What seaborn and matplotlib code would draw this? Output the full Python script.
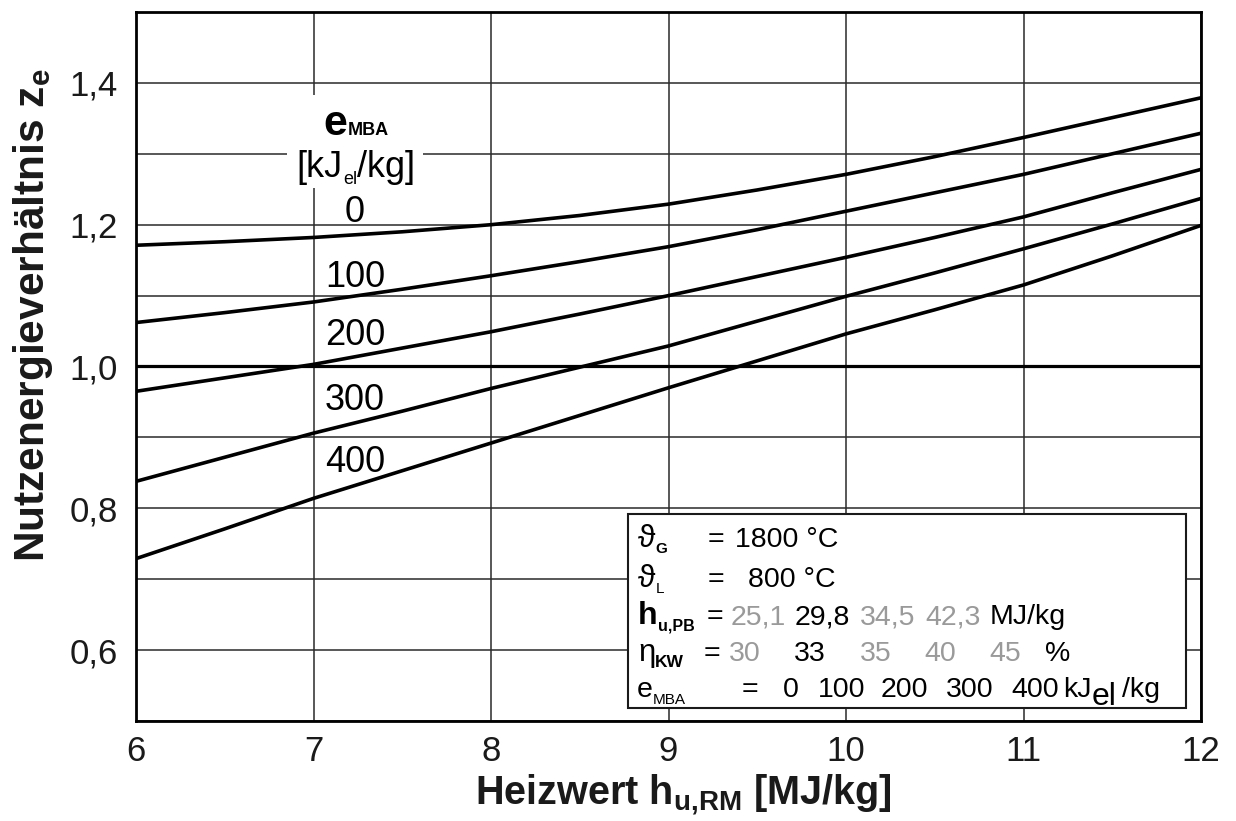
import numpy as np
import pandas as pd
import matplotlib
matplotlib.use("Agg")
import matplotlib.pyplot as plt
import seaborn as sns
from matplotlib.transforms import offset_copy
from matplotlib.patches import Rectangle

# ---------------- data ----------------
heizwert = [6.0, 6.5, 7.0, 7.5, 8.0, 8.5, 9.0, 9.5, 10.0, 10.5, 11.0, 11.5, 12.0]
z_e_0   = [1.171, 1.176, 1.182, 1.190, 1.200, 1.213, 1.229, 1.249, 1.271, 1.296, 1.323, 1.351, 1.379]
z_e_100 = [1.062, 1.076, 1.091, 1.109, 1.128, 1.148, 1.169, 1.193, 1.219, 1.245, 1.271, 1.300, 1.329]
z_e_200 = [0.965, 0.984, 1.003, 1.026, 1.049, 1.074, 1.100, 1.127, 1.154, 1.182, 1.211, 1.245, 1.278]
z_e_300 = [0.838, 0.872, 0.906, 0.937, 0.969, 0.999, 1.029, 1.064, 1.099, 1.132, 1.166, 1.201, 1.237]
z_e_400 = [0.729, 0.771, 0.814, 0.853, 0.892, 0.931, 0.970, 1.008, 1.046, 1.080, 1.115, 1.156, 1.199]
e_mba = [0, 100, 200, 300, 400]
curves = [z_e_0, z_e_100, z_e_200, z_e_300, z_e_400]

x_ticks = [6, 7, 8, 9, 10, 11, 12]
x_ticklabels = ["6", "7", "8", "9", "10", "11", "12"]
y_grid = [0.5, 0.6, 0.7, 0.8, 0.9, 1.0, 1.1, 1.2, 1.3, 1.4, 1.5]
y_ticklabels = ["", "0,6", "", "0,8", "", "1,0", "", "1,2", "", "1,4", ""]
ref_line = 1.0

hu_pb = ["25,1", "29,8", "34,5", "42,3"]
eta_kw = ["30", "33", "35", "40", "45"]
active_idx = 1

rows = []
for e, zs in zip(e_mba, curves):
    for h, z in zip(heizwert, zs):
        rows.append({"h": h, "z": z, "e": str(e)})
df = pd.DataFrame(rows)

# ---------------- style ----------------
sns.set_style("white")
plt.rcParams["font.family"] = ["Liberation Sans", "DejaVu Sans"]
plt.rcParams["mathtext.fontset"] = "custom"
plt.rcParams["mathtext.rm"] = "Liberation Sans"
plt.rcParams["mathtext.bf"] = "Liberation Sans:bold"
plt.rcParams["mathtext.it"] = "Liberation Sans:italic"

fig = plt.figure(figsize=(12.36, 8.21), dpi=100)
L, R, T, B = 136, 1201, 12, 721
W, H = 1236, 821
ax = fig.add_axes([L / W, 1 - B / H, (R - L) / W, (B - T) / H])

sns.lineplot(data=df, x="h", y="z", hue="e", palette=["black"] * 5,
             legend=False, linewidth=2.6, ax=ax, zorder=3)
ax.axhline(ref_line, color="black", linewidth=2.3, zorder=2.5)

ax.set_xlim(6, 12)
ax.set_ylim(0.5, 1.5)
ax.set_xticks(x_ticks)
ax.set_xticklabels(x_ticklabels)
ax.set_yticks(y_grid)
ax.set_yticklabels(y_ticklabels)
ax.tick_params(axis="both", length=0, labelsize=25, colors="#1a1a1a")
ax.tick_params(axis="x", pad=10)
ax.tick_params(axis="y", pad=13)
ax.grid(True, color="#2a2a2a", linewidth=1.1, zorder=1)
ax.set_axisbelow(True)
for s in ax.spines.values():
    s.set_color("black")
    s.set_linewidth(2.0)
ax.set_xlabel("")
ax.set_ylabel("")

# ---------------- helpers ----------------
renderer = fig.canvas.get_renderer()


def fpos(xp, yp):
    return (xp - L) / (R - L), (B - yp) / (B - T)


def rich(xp, yp, parts, ha="left", zorder=6):
    """parts: (text, size, weight, color, dy_pt, gap_pt)"""
    widths = []
    for s, size, weight, color, dy, gap in parts:
        t = ax.text(0, 0, s, fontsize=size, fontweight=weight)
        widths.append(t.get_window_extent(renderer).width * 72 / fig.dpi)
        t.remove()
    total = sum(widths) + sum(p[5] for p in parts[:-1])
    cur = 0.0 if ha == "left" else -total / 2
    fx, fy = fpos(xp, yp)
    for (s, size, weight, color, dy, gap), w in zip(parts, widths):
        tr = offset_copy(ax.transAxes, fig=fig, x=cur, y=dy, units="points")
        ax.text(fx, fy, s, fontsize=size, fontweight=weight, color=color,
                transform=tr, ha="left", va="baseline", zorder=zorder)
        cur += w + gap


FS = 20.5


def txt(xp, yp, s, size=FS, color="black", weight="normal", ha="left"):
    fx, fy = fpos(xp, yp)
    ax.text(fx, fy, s, fontsize=size, color=color, fontweight=weight,
            transform=ax.transAxes, ha=ha, va="baseline", zorder=6)


# ---------------- curve labels ----------------
ax.add_patch(Rectangle(fpos(287, 188), 136 / (R - L), 93 / (B - T),
                       transform=ax.transAxes, facecolor="white",
                       edgecolor="none", zorder=2))
rich(356, 135, [("e", 31, "bold", "black", 0, 0.5),
                ("MBA", 13, "bold", "black", 0, 0)], ha="center")
rich(356, 177, [("[kJ", 26, "normal", "black", 0, 0),
                ("el", 13, "normal", "black", -5, 0),
                ("/kg]", 26, "normal", "black", 0, 0)], ha="center")
label_base = [222, 287, 345, 410, 472]
for e, yb in zip(e_mba, label_base):
    txt(355, yb, str(e), size=26, ha="center")

# ---------------- parameter box ----------------
ax.add_patch(Rectangle(fpos(628, 708), 558 / (R - L), 194 / (B - T),
                       transform=ax.transAxes, facecolor="white",
                       edgecolor="#1a1a1a", linewidth=1.5, zorder=5))
GRAY = "#9a9a9a"
# row 1
rich(638, 547, [("ϑ", 23, "normal", "black", 0, 0), ("G", 11, "bold", "black", -4, 0)])
txt(708, 547, "=")
txt(735, 547, "1800 °C")
# row 2
rich(638, 587, [("ϑ", 23, "normal", "black", 0, 0), ("L", 11, "normal", "black", -4, 0)])
txt(708, 587, "=")
txt(748, 587, "800 °C")
# row 3
rich(638, 624, [("h", 23, "bold", "black", 0, 0.5), ("u,PB", 11.5, "bold", "black", -5, 0)])
txt(707, 624, "=")
for i, (v, xp) in enumerate(zip(hu_pb, [731, 795, 860, 925])):
    txt(xp, 624, v, color="black" if i == active_idx else GRAY)
txt(990, 624, "MJ/kg")
# row 4
rich(638, 661, [("η", 22.5, "normal", "black", 0, 0), ("KW", 12.5, "bold", "black", -4, 0)])
txt(704, 661, "=")
for i, (v, xp) in enumerate(zip(eta_kw, [729, 794, 860, 924, 989])):
    txt(xp, 661, v, color="black" if i == active_idx else GRAY)
txt(1045, 661, "%")
# row 5
rich(637, 697, [("e", FS, "normal", "black", 0, 0), ("MBA", 11, "normal", "black", -5, 0)])
txt(742, 697, "=")
for v, xp in zip(e_mba, [783, 818, 881, 946, 1011]):
    txt(xp, 697, str(v))
rich(1063, 697, [("kJ", FS, "normal", "black", 0, 0),
                 ("el", 23, "normal", "black", -6, 4),
                 ("/kg", FS, "normal", "black", 0, 0)])

# ---------------- axis titles ----------------
ax.text(0.514, -0.104, r"Heizwert $\mathbf{h}_{\mathbf{u{,}RM}}$ [MJ/kg]",
        transform=ax.transAxes, ha="center", va="center",
        fontsize=28.5, fontweight="bold", color="#1a1a1a")
ax.text(-0.097, 0.572, r"Nutzenergieverhältnis $\mathbf{z}_{\mathbf{e}}$",
        transform=ax.transAxes, ha="center", va="center", rotation=90,
        fontsize=30.5, fontweight="bold", color="#1a1a1a")

fig.savefig("out.png", dpi=100, facecolor="white")
